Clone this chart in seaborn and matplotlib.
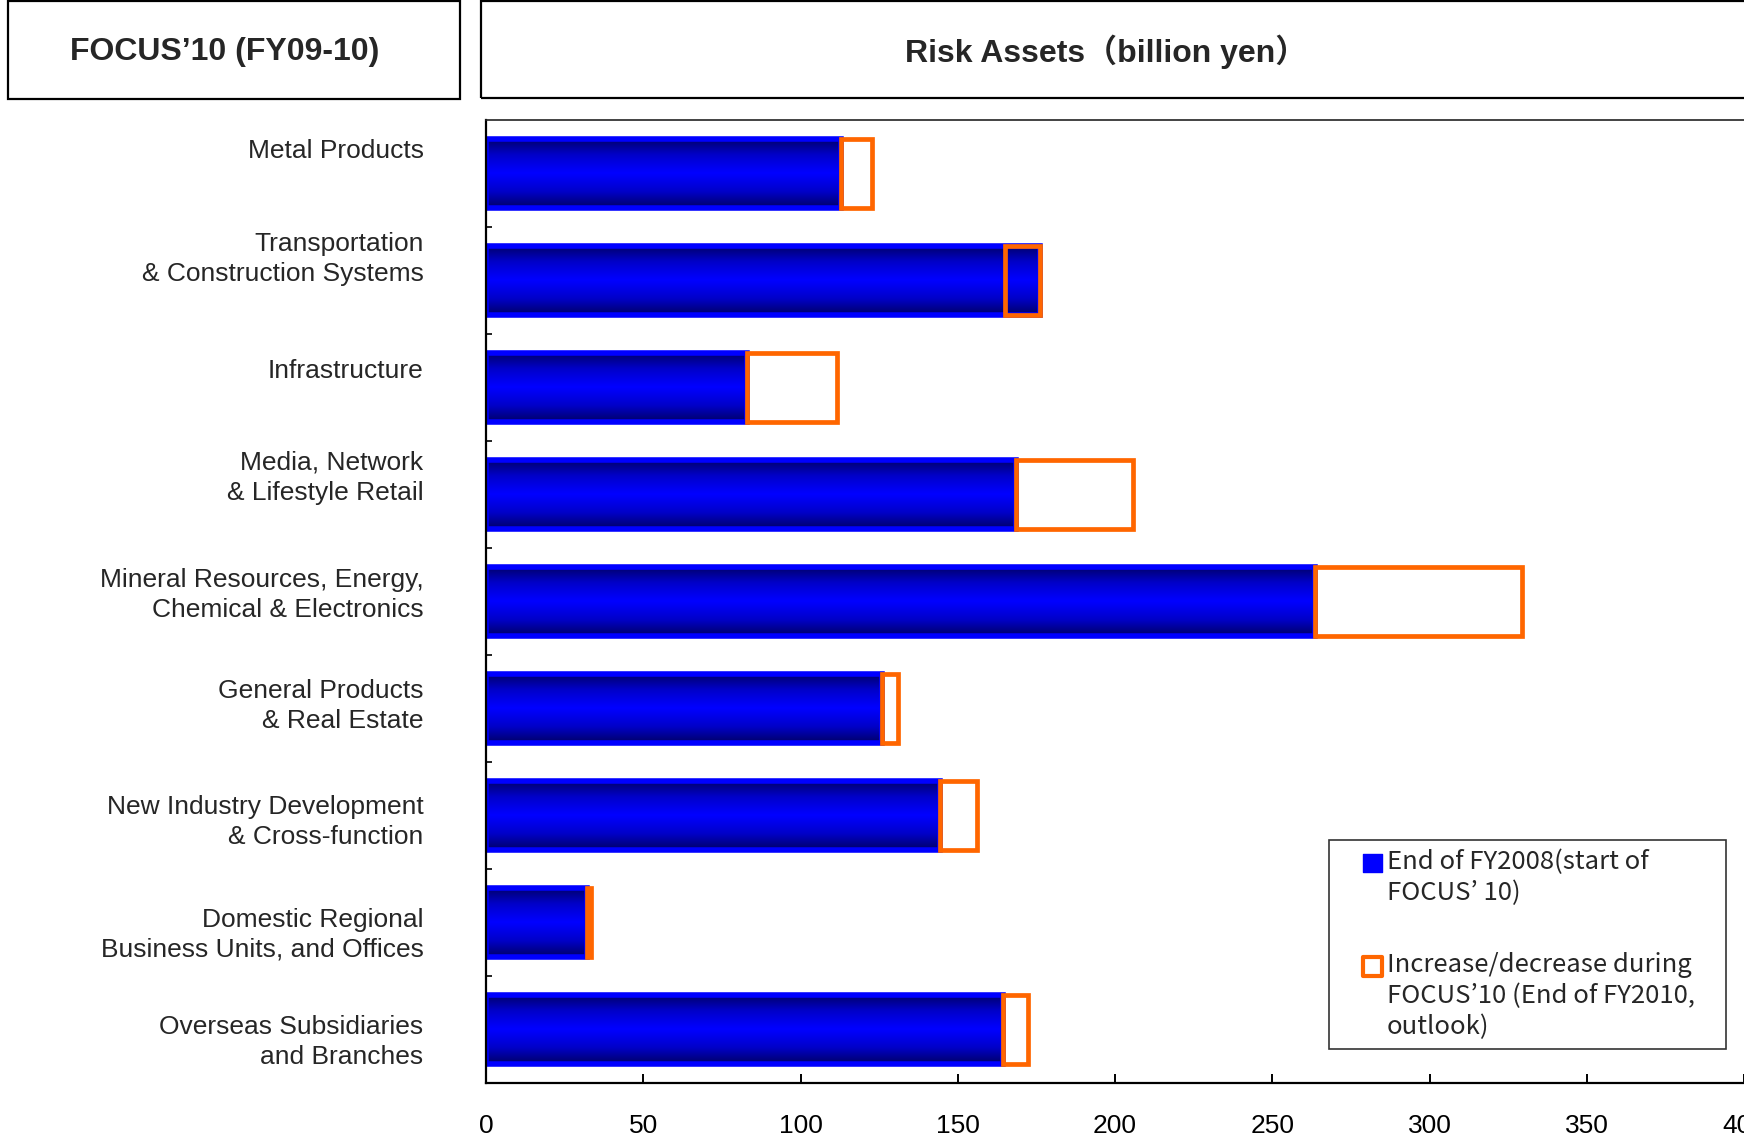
import numpy as np
import pandas as pd
import matplotlib
matplotlib.use("Agg")
import matplotlib.pyplot as plt
import seaborn as sns
from matplotlib.patches import Rectangle, Patch
from matplotlib.colors import LinearSegmentedColormap
from matplotlib.legend_handler import HandlerBase

# ---- data (billion yen) ----
categories = [
    "Metal Products",
    "Transportation\n& Construction Systems",
    "Infrastructure",
    "Media, Network\n& Lifestyle Retail",
    "Mineral Resources, Energy,\nChemical & Electronics",
    "General Products\n& Real Estate",
    "New Industry Development\n& Cross-function",
    "Domestic Regional\nBusiness Units, and Offices",
    "Overseas Subsidiaries\nand Branches",
]
fy2008_start = [113, 176, 83, 168.5, 263.5, 126, 144.5, 32, 164.5]
fy2010_outlook = [122.7, 165, 111.7, 205.7, 329.3, 131, 156.2, 33.4, 172.2]
x_ticks = [0, 50, 100, 150, 200, 250, 300, 350, 400]

# vertical nudge of each category label (pixels, up is positive)
label_lift_px = [25, 27, 19, 22, 12, 8, -1, -7, -7]

BLUE = "#0000FF"
NAVY = "#000066"
ORANGE = "#FF6600"

sns.set_style("white")
plt.rcParams["font.family"] = ["Liberation Sans", "Noto Sans CJK JP"]

W, H, DPI = 1744, 1138, 100
fig = plt.figure(figsize=(W / DPI, H / DPI), dpi=DPI)
ax = fig.add_axes([486 / W, 55 / H, 1 - 486 / W, (1083 - 120) / H])

df = pd.DataFrame({"segment": categories, "start": fy2008_start, "end": fy2010_outlook})

bar_h = 0.65
sns.barplot(data=df, x="start", y="segment", orient="h", color=BLUE,
            saturation=1, width=bar_h, ax=ax, zorder=2)

# shaded fill inside each blue bar: navy at the edges, bright blue in the middle
shade = LinearSegmentedColormap.from_list("shade", [BLUE, "#0000C8", NAVY])
prof = np.abs(np.linspace(-1, 1, 200)) ** 1.1
grad = prof.reshape(-1, 1)
for p in list(ax.patches):
    x0, y0, w, h = p.get_x(), p.get_y(), p.get_width(), p.get_height()
    im = ax.imshow(grad, cmap=shade, vmin=0, vmax=1, aspect="auto",
                   extent=(x0, x0 + w, y0 + h, y0), zorder=2.1,
                   interpolation="bilinear")
    im.set_clip_path(p)
    p.set_facecolor("none")
    p.set_edgecolor(BLUE)
    p.set_linewidth(4)
    p.set_zorder(2.2)

# change during FOCUS'10: hollow orange boxes
pos = np.arange(len(categories))
delta = np.array(fy2010_outlook) - np.array(fy2008_start)
ax.barh(pos, delta, left=fy2008_start, height=bar_h, facecolor="none",
        edgecolor=ORANGE, linewidth=3.4, zorder=3)

ax.set_xlim(0, 400)
ax.set_ylim(len(categories) - 0.5, -0.5)
ax.set_xticks(x_ticks)
ax.set_xlabel("")
ax.set_ylabel("")

# axes frame
for s in ["left", "bottom"]:
    ax.spines[s].set_color("black")
    ax.spines[s].set_linewidth(1.6)
ax.spines["top"].set_color("#222222")
ax.spines["top"].set_linewidth(1.2)
ax.spines["right"].set_visible(False)

ax.tick_params(axis="x", direction="in", length=6.5, width=1.4, pad=22,
               labelsize=19, colors="black", bottom=True)
ax.tick_params(axis="y", which="major", length=0, pad=45, labelsize=19)
ax.set_yticks(np.arange(len(categories)) + 0.5, minor=True)
ax.tick_params(axis="y", which="minor", direction="in", length=4.5, width=1.2,
               left=True, colors="black")

px_per_unit = (1083 - 120) / len(categories)
label_pos = [i - lift / px_per_unit for i, lift in enumerate(label_lift_px)]
ax.set_yticks(label_pos)
ax.set_yticklabels(categories, ha="right", fontsize=19)
for t in ax.get_yticklabels():
    t.set_linespacing(1.3)

# legend with square keys lined up with the first line of each entry
class SquareKey(HandlerBase):
    def __init__(self, lift, size=13.6):
        super().__init__()
        self.lift = lift
        self.size = size

    def create_artists(self, legend, orig_handle, xdescent, ydescent, width,
                       height, fontsize, trans):
        s = self.size
        r = Rectangle((width - s - xdescent, (height - s) / 2 - ydescent + self.lift),
                      s, s, facecolor=orig_handle.get_facecolor(),
                      edgecolor=orig_handle.get_edgecolor(),
                      linewidth=orig_handle.get_linewidth(), transform=trans,
                      joinstyle="round")
        return [r]

h_start = Patch(facecolor=BLUE, edgecolor=BLUE, linewidth=1)
h_delta = Patch(facecolor="white", edgecolor=ORANGE, linewidth=3)
leg_fs = 18.5
pitch = 22.4
leg = ax.legend(
    [h_start, h_delta],
    ["End of FY2008(start of\nFOCUS\u2019 10)",
     "Increase/decrease during\nFOCUS\u201910 (End of FY2010,\noutlook)"],
    handler_map={h_start: SquareKey(0.5 * pitch), h_delta: SquareKey(1.0 * pitch)},
    loc="upper left", bbox_to_anchor=(0.670, 0.2523, 0.3157, 0.0), mode="expand",
    borderaxespad=0, borderpad=0.35, handlelength=1.7, handleheight=0.75,
    handletextpad=0.2, labelspacing=1.8, fancybox=False, frameon=True,
    prop={"family": ["Noto Sans CJK JP"], "size": leg_fs},
)
for t in leg.get_texts():
    t.set_linespacing(1.25)
leg.get_frame().set_edgecolor("black")
leg.get_frame().set_linewidth(1.2)
leg.set_zorder(5)

# header boxes
fig.add_artist(Rectangle((8 / W, 1 - 99 / H), 452 / W, 98 / H, transform=fig.transFigure,
                         facecolor="none", edgecolor="black", linewidth=1.6))
fig.add_artist(Rectangle((481 / W, 1 - 98 / H), 1.0, 97 / H, transform=fig.transFigure,
                         facecolor="none", edgecolor="black", linewidth=1.6))
fig.text(225 / W, 1 - 52 / H, "FOCUS\u201910 (FY09-10)", ha="center", va="center",
         fontsize=23, fontweight="bold")
fig.text(1106 / W, 1 - 52 / H, "Risk Assets\uff08billion yen\uff09", ha="center",
         va="center", fontsize=23, fontweight="bold")

fig.savefig("out.png", dpi=DPI)
